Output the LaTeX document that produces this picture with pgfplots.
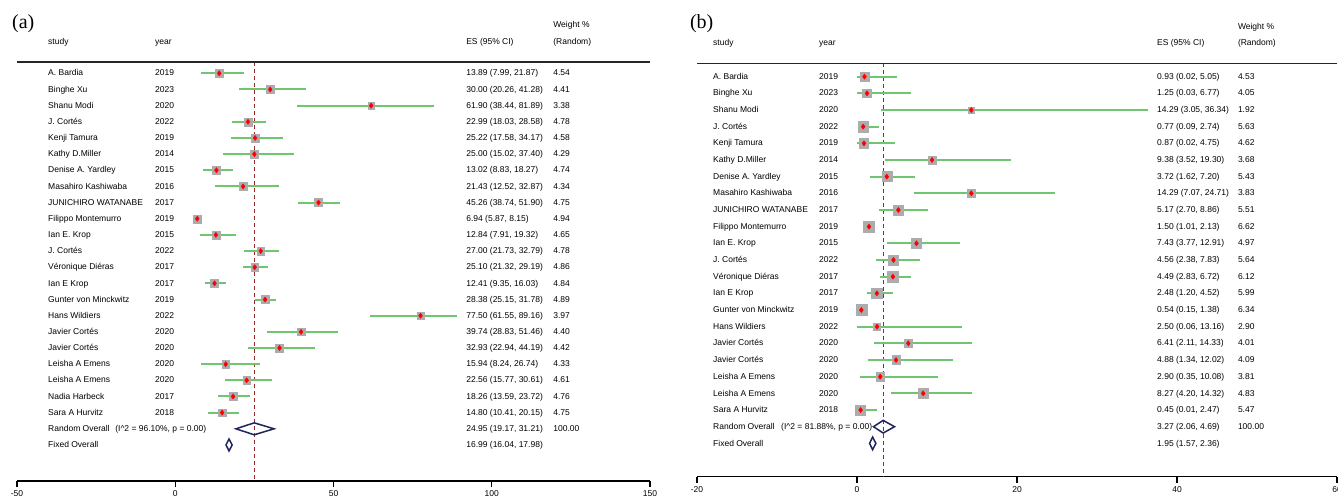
\documentclass[border=0pt]{standalone}
\usepackage{fontspec}
\setmainfont{Liberation Sans}
\newfontfamily\serifpanel{Liberation Serif}
\usepackage{pgfplots}
\usepackage{pgfplotstable}
\pgfplotsset{compat=1.18}
\definecolor{cigreen}{RGB}{112,198,112}
\definecolor{boxgray}{RGB}{172,172,172}
\definecolor{dnavy}{RGB}{32,36,92}
\definecolor{dred}{RGB}{150,40,40}
\newcommand\fs{\fontsize{8.5}{10}\selectfont}

\pgfplotstableread[col sep=semicolon]{
row;study;year;es;lo;hi;w;esci
0;A. Bardia;2019;13.89;7.99;21.87;4.54;13.89 (7.99, 21.87)
1;Binghe Xu;2023;30.00;20.26;41.28;4.41;30.00 (20.26, 41.28)
2;Shanu Modi;2020;61.90;38.44;81.89;3.38;61.90 (38.44, 81.89)
3;J. Cortés;2022;22.99;18.03;28.58;4.78;22.99 (18.03, 28.58)
4;Kenji Tamura;2019;25.22;17.58;34.17;4.58;25.22 (17.58, 34.17)
5;Kathy D.Miller;2014;25.00;15.02;37.40;4.29;25.00 (15.02, 37.40)
6;Denise A. Yardley;2015;13.02;8.83;18.27;4.74;13.02 (8.83, 18.27)
7;Masahiro Kashiwaba;2016;21.43;12.52;32.87;4.34;21.43 (12.52, 32.87)
8;JUNICHIRO WATANABE;2017;45.26;38.74;51.90;4.75;45.26 (38.74, 51.90)
9;Filippo Montemurro;2019;6.94;5.87;8.15;4.94;6.94 (5.87, 8.15)
10;Ian E. Krop;2015;12.84;7.91;19.32;4.65;12.84 (7.91, 19.32)
11;J. Cortés;2022;27.00;21.73;32.79;4.78;27.00 (21.73, 32.79)
12;Véronique Diéras;2017;25.10;21.32;29.19;4.86;25.10 (21.32, 29.19)
13;Ian E Krop;2017;12.41;9.35;16.03;4.84;12.41 (9.35, 16.03)
14;Gunter von Minckwitz;2019;28.38;25.15;31.78;4.89;28.38 (25.15, 31.78)
15;Hans Wildiers;2022;77.50;61.55;89.16;3.97;77.50 (61.55, 89.16)
16;Javier Cortés;2020;39.74;28.83;51.46;4.40;39.74 (28.83, 51.46)
17;Javier Cortés;2020;32.93;22.94;44.19;4.42;32.93 (22.94, 44.19)
18;Leisha A Emens;2020;15.94;8.24;26.74;4.33;15.94 (8.24, 26.74)
19;Leisha A Emens;2020;22.56;15.77;30.61;4.61;22.56 (15.77, 30.61)
20;Nadia Harbeck;2017;18.26;13.59;23.72;4.76;18.26 (13.59, 23.72)
21;Sara A Hurvitz;2018;14.80;10.41;20.15;4.75;14.80 (10.41, 20.15)
}\tabA

\pgfplotstableread[col sep=semicolon]{
row;study;year;es;lo;hi;w;esci
0;A. Bardia;2019;0.93;0.02;5.05;4.53;0.93 (0.02, 5.05)
1;Binghe Xu;2023;1.25;0.03;6.77;4.05;1.25 (0.03, 6.77)
2;Shanu Modi;2020;14.29;3.05;36.34;1.92;14.29 (3.05, 36.34)
3;J. Cortés;2022;0.77;0.09;2.74;5.63;0.77 (0.09, 2.74)
4;Kenji Tamura;2019;0.87;0.02;4.75;4.62;0.87 (0.02, 4.75)
5;Kathy D.Miller;2014;9.38;3.52;19.30;3.68;9.38 (3.52, 19.30)
6;Denise A. Yardley;2015;3.72;1.62;7.20;5.43;3.72 (1.62, 7.20)
7;Masahiro Kashiwaba;2016;14.29;7.07;24.71;3.83;14.29 (7.07, 24.71)
8;JUNICHIRO WATANABE;2017;5.17;2.70;8.86;5.51;5.17 (2.70, 8.86)
9;Filippo Montemurro;2019;1.50;1.01;2.13;6.62;1.50 (1.01, 2.13)
10;Ian E. Krop;2015;7.43;3.77;12.91;4.97;7.43 (3.77, 12.91)
11;J. Cortés;2022;4.56;2.38;7.83;5.64;4.56 (2.38, 7.83)
12;Véronique Diéras;2017;4.49;2.83;6.72;6.12;4.49 (2.83, 6.72)
13;Ian E Krop;2017;2.48;1.20;4.52;5.99;2.48 (1.20, 4.52)
14;Gunter von Minckwitz;2019;0.54;0.15;1.38;6.34;0.54 (0.15, 1.38)
15;Hans Wildiers;2022;2.50;0.06;13.16;2.90;2.50 (0.06, 13.16)
16;Javier Cortés;2020;6.41;2.11;14.33;4.01;6.41 (2.11, 14.33)
17;Javier Cortés;2020;4.88;1.34;12.02;4.09;4.88 (1.34, 12.02)
18;Leisha A Emens;2020;2.90;0.35;10.08;3.81;2.90 (0.35, 10.08)
19;Leisha A Emens;2020;8.27;4.20;14.32;4.83;8.27 (4.20, 14.32)
20;Sara A Hurvitz;2018;0.45;0.01;2.47;5.47;0.45 (0.01, 2.47)
}\tabB

\tikzset{txt/.style={anchor=mid west, inner sep=0pt, font=\fs, text=black}}
\pgfplotsset{
  fp/.style={scale only axis, anchor=south west, axis x line=bottom, axis y line=none,
    y dir=reverse, clip=false,
    x axis line style={-, line width=1.2pt, black},
    tick align=outside, major tick length=6pt,
    xtick style={line width=1.1pt, black},
    xticklabel style={font=\fs, anchor=north, inner sep=0pt, yshift=-3.5pt}},
  ci/.style={cigreen, line width=2pt, mark=none, forget plot,
    quiver={u=\thisrow{hi}-\thisrow{lo}, v=0}},
  boxes/.style={only marks, mark=square*, scatter,
    scatter/use mapped color={draw=boxgray, fill=boxgray},
    scatter/@pre marker code/.append style={/tikz/mark size=\msz}},
  redpt/.style={only marks, mark=diamond*, mark size=2.6pt, color=red},
  lbl/.style={draw=none, mark=none, nodes near coords={\pgfplotspointmeta},
    point meta=explicit symbolic,
    every node near coord/.append style={anchor=mid west, inner sep=0pt, font=\fs, text=black}},
}

\begin{document}
\begin{tikzpicture}
\useasboundingbox (0,0) rectangle (1338pt,496pt);
% ---------- panel (a)
\begin{axis}[fp, at={(17pt,15pt)}, width=633pt, height=419pt,
  xmin=-50, xmax=150, ymin=-0.7, ymax=25.23,
  xtick={-50,0,50,100,150}, xticklabels={-50,0,50,100,150}]
 \addplot[dred, line width=1.2pt, dash pattern=on 4pt off 3pt] coordinates {(24.95,-0.7) (24.95,25.23)};
 \addplot[black!85, line width=1.6pt] coordinates {(-50,-0.7) (150,-0.7)};
 \addplot[ci] table[x=lo, y=row] \tabA;
 \addplot[boxes, visualization depends on={1.8*sqrt(\thisrow{w}) \as \msz}] table[x=es, y=row] \tabA;
 \addplot[redpt] table[x=es, y=row] \tabA;
 \addplot[lbl] table[x expr=-40.2, y=row, meta=study] \tabA;
 \addplot[lbl] table[x expr=-6.4, y=row, meta=year] \tabA;
 \addplot[lbl] table[x expr=91.9, y=row, meta=esci] \tabA;
 \addplot[lbl] table[x expr=119.4, y=row, meta=w] \tabA;
 % overall diamonds
 \addplot[dnavy, line width=1.5pt] coordinates {(19.17,22) (24.95,21.63) (31.21,22) (24.95,22.37) (19.17,22) (24.95,21.63)};
 \addplot[dnavy, line width=1.5pt] coordinates {(16.04,23) (16.99,22.63) (17.98,23) (16.99,23.37) (16.04,23) (16.99,22.63)};
 \node[anchor=west, inner sep=0pt, font=\serifpanel\fontsize{20}{22}\selectfont] at (axis cs:-51.6,-3.05) {(a)};
 \node[txt] at (axis cs:-40.2,-1.94) {study};
 \node[txt] at (axis cs:-6.4,-1.94) {year};
 \node[txt] at (axis cs:91.9,-1.94) {ES (95\% CI)};
 \node[txt] at (axis cs:119.4,-2.99) {Weight \%};
 \node[txt] at (axis cs:119.4,-1.94) {(Random)};
 \node[txt] at (axis cs:-40.2,22) {Random Overall};
 \node[txt] at (axis cs:-19.0,22) {(I\textasciicircum 2 = 96.10\%, p = 0.00)};
 \node[txt] at (axis cs:91.9,22) {24.95 (19.17, 31.21)};
 \node[txt] at (axis cs:119.4,22) {100.00};
 \node[txt] at (axis cs:-40.2,23) {Fixed Overall};
 \node[txt] at (axis cs:91.9,23) {16.99 (16.04, 17.98)};
\end{axis}
% ---------- panel (b)
\begin{axis}[fp, at={(697pt,19.3pt)}, width=640pt, height=413.4pt,
  xmin=-20, xmax=60, ymin=-0.8, ymax=24.0,
  xtick={-20,0,20,40,60}, xticklabels={-20,0,20,40,60}]
 \addplot[dred, line width=1.2pt, dash pattern=on 4pt off 3pt] coordinates {(3.27,-0.8) (3.27,24.0)};
 \addplot[black!85, line width=1.6pt] coordinates {(-20,-0.8) (60,-0.8)};
 \addplot[ci] table[x=lo, y=row] \tabB;
 \addplot[boxes, visualization depends on={2.15*sqrt(\thisrow{w}) \as \msz}] table[x=es, y=row] \tabB;
 \addplot[redpt] table[x=es, y=row] \tabB;
 \addplot[lbl] table[x expr=-18.0, y=row, meta=study] \tabB;
 \addplot[lbl] table[x expr=-4.75, y=row, meta=year] \tabB;
 \addplot[lbl] table[x expr=37.5, y=row, meta=esci] \tabB;
 \addplot[lbl] table[x expr=47.6, y=row, meta=w] \tabB;
 \addplot[dnavy, line width=1.5pt] coordinates {(2.06,21) (3.27,20.62) (4.69,21) (3.27,21.38) (2.06,21) (3.27,20.62)};
 \addplot[dnavy, line width=1.5pt] coordinates {(1.57,22) (1.95,21.62) (2.36,22) (1.95,22.38) (1.57,22) (1.95,21.62)};
 \node[anchor=west, inner sep=0pt, font=\serifpanel\fontsize{20}{22}\selectfont] at (axis cs:-20.9,-3.16) {(b)};
 \node[txt] at (axis cs:-18.0,-2.0) {study};
 \node[txt] at (axis cs:-4.75,-2.0) {year};
 \node[txt] at (axis cs:37.5,-2.0) {ES (95\% CI)};
 \node[txt] at (axis cs:47.6,-3.0) {Weight \%};
 \node[txt] at (axis cs:47.6,-2.0) {(Random)};
 \node[txt] at (axis cs:-18.0,21) {Random Overall};
 \node[txt] at (axis cs:-9.5,21) {(I\textasciicircum 2 = 81.88\%, p = 0.00)};
 \node[txt] at (axis cs:37.5,21) {3.27 (2.06, 4.69)};
 \node[txt] at (axis cs:47.6,21) {100.00};
 \node[txt] at (axis cs:-18.0,22) {Fixed Overall};
 \node[txt] at (axis cs:37.5,22) {1.95 (1.57, 2.36)};
\end{axis}
\end{tikzpicture}
\end{document}
